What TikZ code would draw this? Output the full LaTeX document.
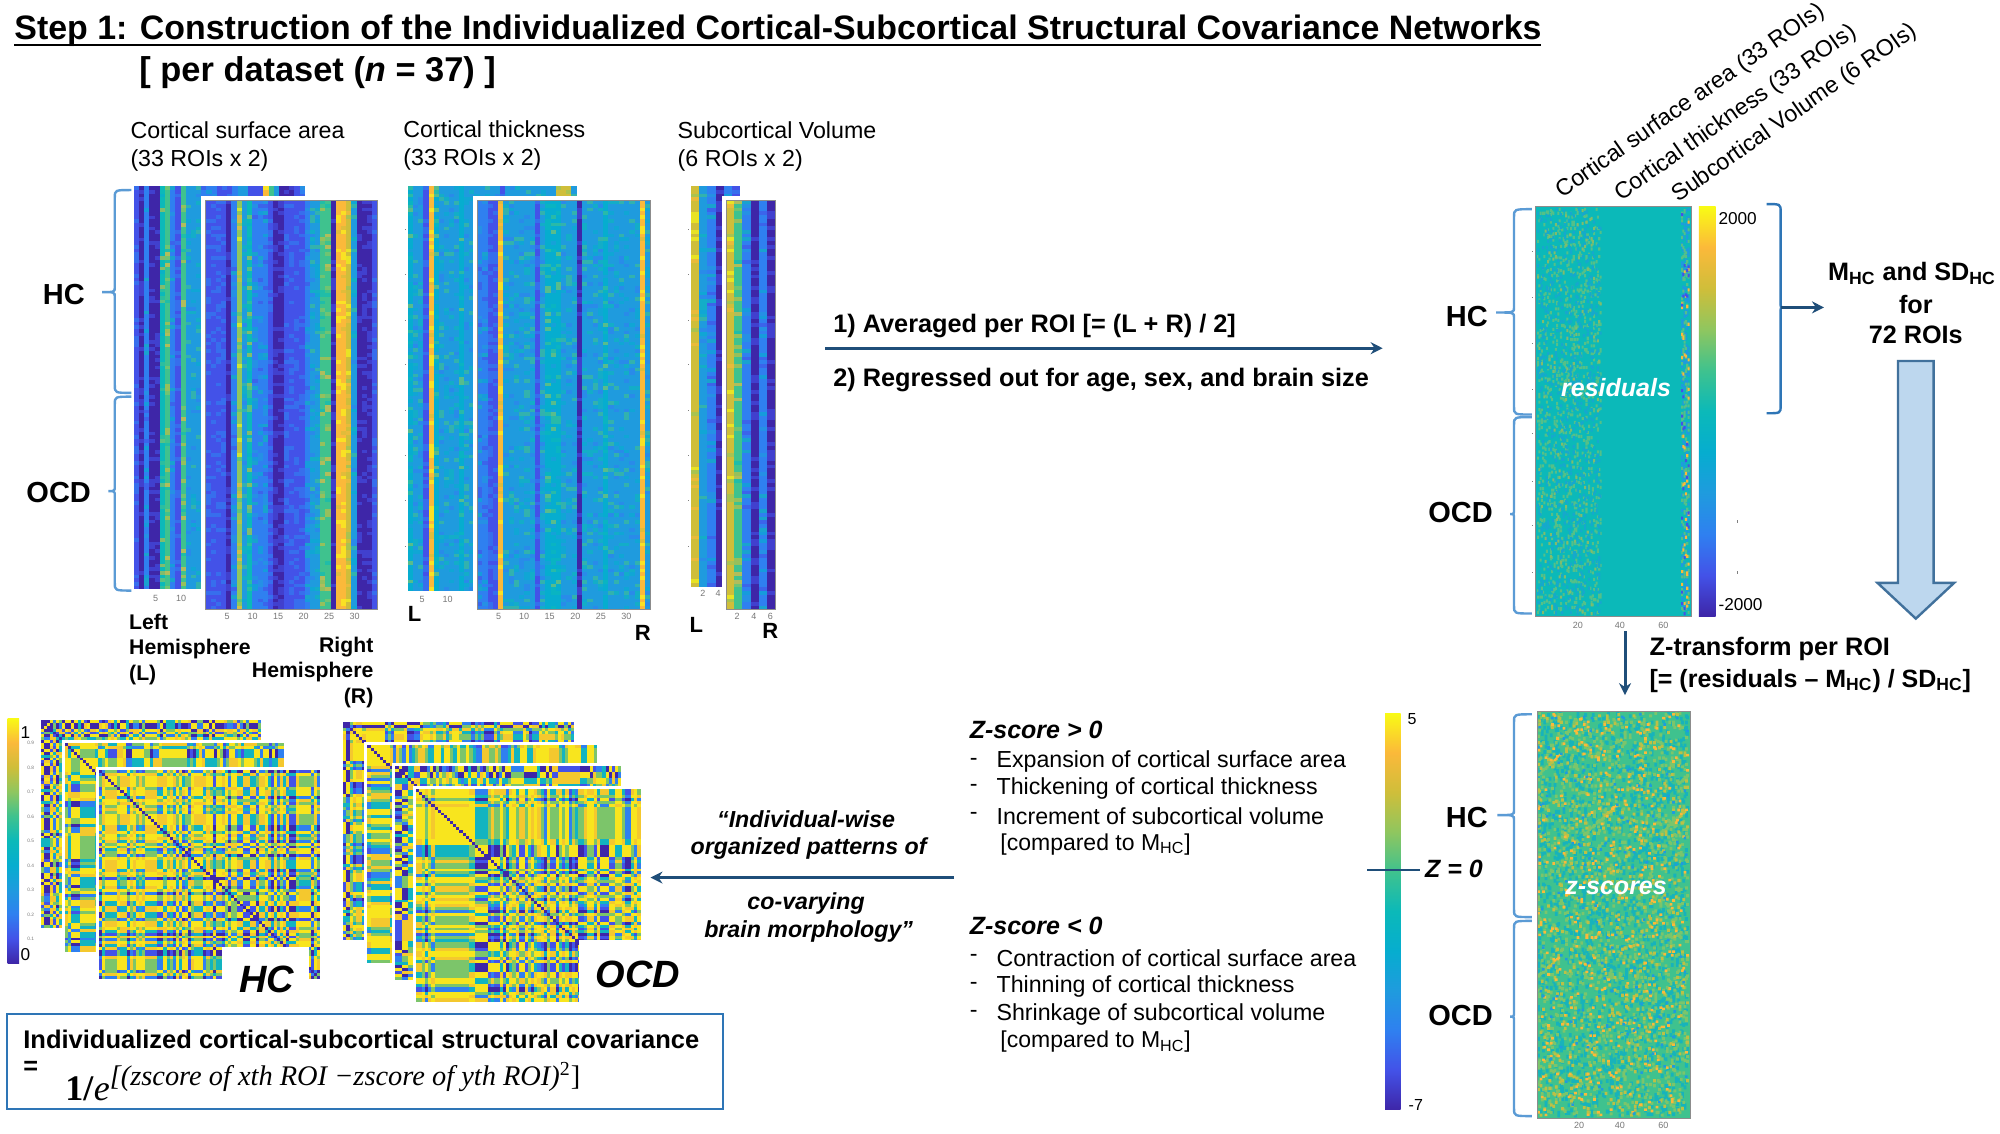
\documentclass[tikz,border=0pt]{standalone}
\usepackage[no-math]{fontspec}
\setmainfont{Liberation Sans}
\newfontfamily\fmfont{Liberation Serif}
\usetikzlibrary{arrows.meta}
\definecolor{p0}{HTML}{3E26A8}
\definecolor{p1}{HTML}{4352E8}
\definecolor{p2}{HTML}{2F80F0}
\definecolor{p3}{HTML}{1F9BDE}
\definecolor{p4}{HTML}{06ADCF}
\definecolor{p5}{HTML}{0BB9B9}
\definecolor{p6}{HTML}{3FC28E}
\definecolor{p7}{HTML}{8FC65F}
\definecolor{p8}{HTML}{CFBE3A}
\definecolor{p9}{HTML}{FBB93A}
\definecolor{p10}{HTML}{F9FB15}
\definecolor{q0}{HTML}{F8E51E}
\definecolor{q1}{HTML}{F4C82E}
\definecolor{q2}{HTML}{7CC56A}
\definecolor{q3}{HTML}{12B4C0}
\definecolor{q4}{HTML}{2F80F0}
\definecolor{q5}{HTML}{4352E8}
\definecolor{q6}{HTML}{3E26A8}
\definecolor{bracelt}{HTML}{5B9BD5}
\definecolor{bracedk}{HTML}{2E75B6}
\definecolor{arrowdk}{HTML}{1F4E79}
\definecolor{bigfill}{HTML}{BDD7EE}
\definecolor{bigedge}{HTML}{41719C}
\definecolor{tickgrey}{HTML}{777777}
\colorlet{sp1}{p7!55!p5}
\colorlet{sp2}{p3!55!p5}
\colorlet{sp3}{p8!60!p5}
\colorlet{zp1}{p4!70!p6}
\colorlet{zp2}{p7!75!p6}
\colorlet{zp3}{p8!70!p7}
\pgfdeclareverticalshading{parula}{100bp}{color(0bp)=(p0); color(25bp)=(p0); color(30bp)=(p1); color(35bp)=(p2); color(40bp)=(p3); color(45bp)=(p4); color(50bp)=(p5); color(55bp)=(p6); color(60bp)=(p7); color(65bp)=(p8); color(70bp)=(p9); color(75bp)=(p10); color(100bp)=(p10)}
\newdimen\uu \uu=0.63775pt
\newcount\rseed \rseed=12345
\newcount\rtmp \newcount\kk \newcount\ii \newcount\jj \newcount\xx \newcount\yy \newcount\dd \newcount\tmpb
\newdimen\hmx \newdimen\hmy \newdimen\hmw \newdimen\hmh
\def\holdA{0}\def\holdB{0}
\def\nextr#1{\global\rseed=\numexpr\rseed*25173+13849\relax
  \rtmp=\rseed \divide\rtmp 65536 \multiply\rtmp 65536 \global\advance\rseed-\rtmp
  \rtmp=\rseed \divide\rtmp 16 \multiply\rtmp #1 \divide\rtmp 4096 }
% column heat map: x0 y0 x1 y1 list ncols nrows noise%
\def\colheat#1#2#3#4#5#6#7#8{%
 \begin{pgfscope}
 \foreach \bb [count=\cc] in {#5}{%
  \pgfsetfillcolor{p\bb}%
  \hmx=\dimexpr#1\uu+(#3\uu-#1\uu)*\numexpr\cc-1\relax/#6\relax
  \hmw=\dimexpr(#3\uu-#1\uu)/#6\relax
  \pgfpathrectangle{\pgfqpoint{\hmx}{\dimexpr-#4\uu\relax}}{\pgfqpoint{\dimexpr\hmw+0.15pt\relax}{\dimexpr#4\uu-#2\uu\relax}}%
  \pgfusepath{fill}%
  \hmh=\dimexpr(#4\uu-#2\uu)/#7\relax
  \jj=0
  \loop\ifnum\jj<#7
   \nextr{100}\ifnum\rtmp<#8
    \nextr{4}\ifcase\rtmp \dd=-1 \or \dd=1 \or \dd=2 \else \dd=3 \fi
    \ifnum\bb<2 \dd=1 \fi
    \advance\dd \bb\relax
    \ifnum\dd<0 \dd=0 \fi
    \ifnum\dd>10 \dd=10 \fi
    \pgfsetfillcolor{p\the\dd!60!p\bb}%
    \pgfpathrectangle{\pgfqpoint{\hmx}{\dimexpr-#2\uu-\hmh*\jj-\hmh\relax}}{\pgfqpoint{\hmw}{\hmh}}%
    \pgfusepath{fill}%
   \fi
   \advance\jj 1
  \repeat
 }%
 \end{pgfscope}}
% specks: colour count x0 y0 w h sx sy
\def\specks#1#2#3#4#5#6#7#8{%
 \begin{pgfscope}\pgfsetfillcolor{#1}\kk=#2\relax
 \loop\ifnum\kk>0
  \nextr{#5}\xx=\rtmp \nextr{#6}\yy=\rtmp
  \pgfpathrectangle{\pgfqpoint{\dimexpr#3\uu+\xx\uu\relax}{\dimexpr-#4\uu-\yy\uu-#8\uu\relax}}{\pgfqpoint{#7\uu}{#8\uu}}%
  \advance\kk-1
 \repeat
 \pgfusepath{fill}\end{pgfscope}}
% covariance map: x0 y0 x1 y1 N coverx covery
\def\covm#1#2#3#4#5#6#7{%
 \begin{pgfscope}
 \ii=1 \tmpb=4
 \loop\ifnum\ii<\numexpr#5+1\relax
  \xx=0
  \ifnum\ii>\holdA \ifnum\ii<\holdB \xx=1 \fi\fi
  \ifnum\xx=0
   \nextr{100}\ifnum\rtmp<18 \else \nextr{10}\tmpb=\rtmp \fi
  \fi
  \expandafter\edef\csname zv\the\ii\endcsname{\the\tmpb}%
  \advance\ii 1
 \repeat
 \hmw=\dimexpr(#3\uu-#1\uu)/#5+0.15pt\relax
 \hmh=\dimexpr(#4\uu-#2\uu)/#5+0.15pt\relax
 \ii=1
 \loop\ifnum\ii<\numexpr#5+1\relax
  \hmy=\dimexpr#2\uu+(#4\uu-#2\uu)*\numexpr\ii-1\relax/#5\relax
  {\jj=1
  \loop\ifnum\jj<\numexpr#5+1\relax
   \hmx=\dimexpr#1\uu+(#3\uu-#1\uu)*\numexpr\jj-1\relax/#5\relax
   \tmpb=1
   \ifdim\hmx>#6\uu \ifdim\hmy>#7\uu \tmpb=0 \fi\fi
   \ifnum\tmpb=1
    \dd=\numexpr\csname zv\the\ii\endcsname-\csname zv\the\jj\endcsname\relax
    \ifnum\dd<0 \dd=-\dd \fi
    \ifnum\ii=\jj \dd=9 \fi
    \ifcase\dd \dd=0 \or \dd=0 \or \dd=1 \or \dd=2 \or \dd=3 \or \dd=4 \or \dd=5 \else \dd=6 \fi
    \pgfsetfillcolor{q\the\dd}%
    \pgfpathrectangle{\pgfqpoint{\hmx}{\dimexpr-\hmy-\hmh\relax}}{\pgfqpoint{\hmw}{\hmh}}%
    \pgfusepath{fill}%
   \fi
   \advance\jj 1
  \repeat}%
  \advance\ii 1
 \repeat
 \end{pgfscope}}
\tikzset{
 x=0.63775pt,y=-0.63775pt,
 txt/.style={inner sep=0pt,anchor=west,yshift=-0.7pt,font=\fontsize{11.6}{14}\selectfont},
 txtb/.style={inner sep=0pt,anchor=west,yshift=-1pt,font=\fontsize{12.65}{14}\selectfont\bfseries},
 hemi/.style={inner sep=0pt,font=\fontsize{10.6}{12.75}\selectfont\bfseries},
 group/.style={inner sep=0pt,font=\fontsize{14.5}{16}\selectfont\bfseries},
 tick/.style={inner sep=0pt,font=\fontsize{4.5}{5}\selectfont,text=tickgrey},
 whiteit/.style={inner sep=0pt,text=white,font=\fontsize{12.5}{14}\selectfont\bfseries\itshape},
 quote/.style={inner sep=0pt,yshift=-0.7pt,font=\fontsize{11.6}{14}\selectfont\bfseries\itshape},
 big/.style={inner sep=0pt,font=\fontsize{19}{21}\selectfont\bfseries\itshape},
 lr/.style={inner sep=0pt,font=\fontsize{11}{12}\selectfont\bfseries},
 rot/.style={inner sep=0pt,anchor=west,rotate=35,font=\fontsize{11.6}{14}\selectfont},
 bracelight/.style={draw=bracelt,line width=1.2pt},
 bracedark/.style={draw=bracedk,line width=1.2pt},
 darrow/.style={draw=arrowdk,line width=1.5pt,-{Stealth[length=6pt,width=6pt]}},
 frame/.style={draw=black!45,line width=0.25pt},
 minitick/.style={draw=black!50,line width=0.3pt},
 bz/.style={inner sep=0pt,anchor=west,font=\fontsize{12.5}{14}\selectfont\bfseries\itshape},
 cmp/.style={inner sep=0pt,anchor=west,yshift=-0.5pt,font=\fontsize{11.5}{14}\selectfont},
 msdl/.style={inner sep=0pt,yshift=-1pt,font=\fontsize{12.6}{14}\selectfont\bfseries},
}
\newcommand{\lbr}[6]{% xend xbody xtip y0 ymid y1
 \draw[bracelight] (#1,#4) .. controls (#2,#4) and (#2,#4) .. (#2,{#4+6}) -- (#2,{#5-4}) .. controls (#2,#5) and (#2,#5) .. (#3,#5) .. controls (#2,#5) and (#2,#5) .. (#2,{#5+4}) -- (#2,{#6-6}) .. controls (#2,#6) and (#2,#6) .. (#1,#6);}
\begin{document}
\begin{tikzpicture}
\useasboundingbox (0,0) rectangle (1568,888.3);
\fill[white] (0,0) rectangle (1568,888.3);
% Title
\node[inner sep=0pt,anchor=west,font=\fontsize{16.95}{18}\selectfont\bfseries] (title) at (11,24) {Step 1: Construction of the Individualized Cortical-Subcortical Structural Covariance Networks};
\coordinate (ul1) at (11,35.5);
\coordinate (ul2) at (1208,35.5);
\draw[line width=1.2pt] (ul1) -- (ul2);
\node[inner sep=0pt,anchor=west,font=\fontsize{17.2}{18}\selectfont\bfseries] (sub) at (109,57) {[ per dataset (\textit{n} = 37) ]};
% Top labels
\node[txt,align=left] (csa) at (102,114) {Cortical surface area\\(33 ROIs x 2)};
\node[txt,align=left] (ct) at (316,113) {Cortical thickness\\(33 ROIs x 2)};
\node[txt,align=left] (sv) at (531,114) {Subcortical Volume\\(6 ROIs x 2)};
% Matrices: surface area
\colheat{105}{146}{239}{462}{1,0,2,0,0,5,6,2,1,6,3,3,3,2,2,2,1,1,1,2,3,3,1,1,1,9,6,3,0,0,0,1,2}{33}{110}{22}
\fill[white] (157.5,154) rectangle (298,481);
\colheat{161}{157}{296}{478}{1,1,1,1,0,2,7,3,5,2,2,2,1,0,0,1,1,1,1,2,3,3,6,6,0,9,9,8,3,0,0,0,1}{33}{110}{28}
\draw[frame] (161,157) rectangle (296,478);
% Matrices: thickness
\colheat{320}{146}{452}{463}{4,3,3,1,9,4,3,3,3,3,4,3,3,3,3,3,3,3,1,3,3,3,3,3,3,3,3,3,3,8,8,8,3}{33}{110}{30}
\fill[white] (371,154) rectangle (512,481);
\colheat{374}{157}{510}{478}{2,2,1,1,9,3,3,3,3,3,3,1,3,4,4,4,3,3,3,0,3,3,3,3,4,3,3,3,3,3,3,9,3}{33}{110}{30}
\draw[frame] (374,157) rectangle (510,478);
% Matrices: subcortical
\colheat{542}{146}{580}{460}{8,3,2,0,2,1}{6}{110}{28}
\fill[white] (566,154) rectangle (610,481);
\colheat{569}{157}{608}{478}{8,6,2,0,2,0}{6}{110}{28}
\draw[frame] (569,157) rectangle (608,478);
% small axis marks
\foreach \my in {180,215,251,286,322,357,392,428}{\draw[minitick] (317.5,\my) -- (318.5,\my); \draw[minitick] (539.5,\my) -- (540.5,\my);}
\foreach \my in {197,233,269,305,340,377,412,449}{\draw[minitick] (1201,\my) -- (1202,\my);}
\foreach \my in {197,233,269,305,340,377,412,449}{\draw[minitick] (1325,\my) -- (1326,\my);}
\foreach \my in {408,448}{\draw[minitick] (1362,\my) -- (1362,{\my+2});}
% Tick labels
\foreach \tx/\tt in {122/5,142/10}{\node[tick] (ta\tx) at (\tx,469) {\tt};}
\foreach \tx/\tt in {178/5,198/10,218/15,238/20,258/25,278/30}{\node[tick] (tb\tx) at (\tx,483) {\tt};}
\foreach \tx/\tt in {331/5,351/10}{\node[tick] (tc\tx) at (\tx,470) {\tt};}
\foreach \tx/\tt in {391/5,411/10,431/15,451/20,471/25,491/30}{\node[tick] (td\tx) at (\tx,483) {\tt};}
\foreach \tx/\tt in {551/2,563/4}{\node[tick] (te\tx) at (\tx,465) {\tt};}
\foreach \tx/\tt in {578/2,591/4,604/6}{\node[tick] (tf\tx) at (\tx,483) {\tt};}
% Hemisphere labels
\node[hemi,align=left,anchor=north west] (lhemi) at (101,481) {Left\\Hemisphere\\(L)};
\node[hemi,align=right,anchor=north east] (rhemi) at (293,499) {Right\\Hemisphere\\(R)};
\node[lr] (l2) at (325,481) {L};
\node[lr] (r2) at (504,496) {R};
\node[lr] (l3) at (546,490) {L};
\node[lr] (r3) at (604,495) {R};
% Left braces
\lbr{103}{90}{80}{149}{229}{308}
\lbr{103}{90}{85}{311}{385}{463}
\node[group] (hc1) at (50,231) {HC};
\node[group] (ocd1) at (46,386) {OCD};
% Middle step
\node[txtb] (s1) at (653,254) {1) Averaged per ROI [= (L + R) / 2]};
\node[txtb] (s2) at (653,296) {2) Regressed out for age, sex, and brain size};
\coordinate (m1) at (647,273);
\coordinate (m2) at (1084,273);
\draw[darrow] (m1) -- (m2);
% Rotated labels
\node[rot] (r1) at (1222,152) {Cortical surface area (33 ROIs)};
\node[rot] (r2b) at (1268,154) {Cortical thickness (33 ROIs)};
\node[rot] (r3b) at (1313,155) {Subcortical Volume (6 ROIs)};
% Residuals
\fill[p5] (1204,162) rectangle (1326,483);
\specks{sp1}{1100}{1205}{163}{50}{318}{1.6}{2.4}
\specks{sp2}{700}{1205}{163}{50}{318}{1.6}{2.4}
\specks{sp3}{120}{1205}{163}{50}{318}{1.6}{2.4}
\specks{p3}{300}{1318}{163}{6}{318}{1.6}{2.4}
\specks{sp1}{180}{1318}{163}{6}{318}{1.6}{2.4}
\specks{p9}{50}{1318}{163}{6}{318}{1.6}{2.4}
\specks{p1}{30}{1318}{163}{6}{318}{1.6}{2.4}
\draw[frame] (1204,162) rectangle (1326,483);
\shade[shading=parula] (1332,162) rectangle (1345,483);
\node[inner sep=0pt,anchor=west,font=\fontsize{8.6}{10}\selectfont] (c1a) at (1347,171) {2000};
\node[inner sep=0pt,anchor=west,font=\fontsize{8.6}{10}\selectfont] (c1b) at (1347,474) {-2000};
\node[whiteit] (resid) at (1267,304) {residuals};
\lbr{1201}{1187}{1173}{164}{245}{325}
\lbr{1201}{1187}{1184}{327}{403}{481}
\node[group] (hc2) at (1150,248) {HC};
\node[group] (ocd2) at (1145,402) {OCD};
\foreach \tx/\tt in {1237/20,1270/40,1304/60}{\node[tick] (tg\tx) at (\tx,490) {\tt};}
% Bracket and M/SD
\draw[bracedark] (1385,160) .. controls (1396,160) and (1396,160) .. (1396,166) -- (1396,237) .. controls (1396,241) and (1396,241) .. (1398,241) .. controls (1396,241) and (1396,241) .. (1396,245) -- (1396,318) .. controls (1396,324) and (1396,324) .. (1385,324);
\coordinate (brk) at (1396,241);
\coordinate (brk2) at (1430,241);
\draw[darrow] (brk) -- (brk2);
\node[msdl] (msd) at (1499,213) {M\textsubscript{HC} and SD\textsubscript{HC}};
\node[msdl] (for) at (1502,237) {for};
\node[msdl] (rois) at (1502,261) {72 ROIs};
\draw[fill=bigfill,draw=bigedge,line width=1.2pt] (1488,283) -- (1516,283) -- (1516,457) -- (1532,457) -- (1502,485) -- (1472,457) -- (1488,457) -- cycle;
% Z transform
\node[txtb] (zt1) at (1293,507) {Z-transform per ROI};
\node[txtb,font=\fontsize{12.5}{14}\selectfont\bfseries] (zt2) at (1293,532) {[= (residuals – M\textsubscript{HC}) / SD\textsubscript{HC}]};
\coordinate (z1) at (1274,495);
\coordinate (z2) at (1274,545);
\draw[darrow] (z1) -- (z2);
% z-score matrix
\fill[p6] (1205,558) rectangle (1325,877);
\specks{zp1}{1900}{1205}{558}{118}{316}{2.2}{3}
\specks{zp2}{1500}{1205}{558}{118}{316}{2.2}{2.5}
\specks{zp3}{500}{1205}{558}{118}{316}{2.2}{2.5}
\specks{p9}{400}{1205}{558}{118}{316}{2.2}{2}
\specks{p3}{150}{1205}{558}{118}{316}{2}{2}
\draw[frame] (1205,558) rectangle (1325,877);
\node[whiteit] (zsc) at (1267,696) {z-scores};
\lbr{1201}{1187}{1174}{560}{639}{719}
\lbr{1201}{1187}{1184}{722}{797}{875}
\node[group] (hc3) at (1150,641) {HC};
\node[group] (ocd3) at (1145,796) {OCD};
\foreach \tx/\tt in {1238/20,1270/40,1304/60}{\node[tick] (th\tx) at (\tx,882) {\tt};}
% z colorbar
\shade[shading=parula] (1086,559) rectangle (1098,870);
\node[inner sep=0pt,font=\fontsize{8}{10}\selectfont] (c2a) at (1107,564) {5};
\node[inner sep=0pt,font=\fontsize{8}{10}\selectfont] (c2b) at (1110,866) {-7};
\coordinate (zl1) at (1072,682);
\coordinate (zl2) at (1113,682);
\draw[draw=arrowdk,line width=1.1pt] (zl1) -- (zl2);
\node[bz] (z0) at (1117,681) {Z = 0};
% Z-score texts
\node[bz] (zp) at (760,572) {Z-score > 0};
\node[txt] (zp0) at (760,596) {-}; \node[txt] (zp1) at (781,596) {Expansion of cortical surface area};
\node[txt] (zp0b) at (760,617) {-}; \node[txt] (zp2) at (781,617) {Thickening of cortical thickness};
\node[txt] (zp0c) at (760,639) {-}; \node[txt] (zp3) at (781,639) {Increment of subcortical volume};
\node[cmp] (zp4) at (784,661) {[compared to M\textsubscript{HC}]};
\node[bz] (zn) at (760,726) {Z-score < 0};
\node[txt] (zn0) at (760,750) {-}; \node[txt] (zn1) at (781,750) {Contraction of cortical surface area};
\node[txt] (zn0b) at (760,772) {-}; \node[txt] (zn2) at (781,772) {Thinning of cortical thickness};
\node[txt] (zn0c) at (760,794) {-}; \node[txt] (zn3) at (781,794) {Shrinkage of subcortical volume};
\node[cmp] (zn4) at (784,816) {[compared to M\textsubscript{HC}]};
% Quote
\node[quote] (qa) at (632,641) {“Individual-wise};
\node[quote] (qb) at (634,664) {organized patterns of};
\node[quote] (qc) at (632,707) {co-varying};
\node[quote] (qd) at (634,729) {brain morphology”};
\coordinate (q1) at (748,688);
\coordinate (q2) at (510,688);
\draw[darrow] (q1) -- (q2);
% Left colorbar
\shade[shading=parula] (6,563) rectangle (15,755);
\node[inner sep=0pt,font=\fontsize{8.6}{10}\selectfont] (cb1) at (20,574) {1};
\node[inner sep=0pt,font=\fontsize{8.6}{10}\selectfont] (cb0) at (20,748) {0};
\foreach \my/\tt in {582.6/0.9,601.8/0.8,621/0.7,640.2/0.6,659.4/0.5,678.6/0.4,697.8/0.3,717/0.2,736.2/0.1}{\node[inner sep=0pt,font=\fontsize{2.4}{3}\selectfont,text=tickgrey] (cbt\tt) at (24,\my) {\tt};}
% HC maps
\covm{32}{564.5}{204.6}{727.6}{72}{49}{580}
\fill[white] (48.5,580) rectangle (224.5,748.5);
\covm{51}{582.5}{222.6}{746.4}{72}{75}{601}
\fill[white] (75,601) rectangle (253,769.5);
\covm{77.6}{603.7}{251}{767.6}{72}{9999}{9999}
\fill[white] (174,742.5) rectangle (242,775);
\node[big] (hcl) at (209,768) {HC};
% OCD maps
\covm{269}{565.7}{450}{737}{72}{285}{582}
\fill[white] (285.5,581.5) rectangle (470,757);
\covm{288}{584}{468}{755}{72}{307}{598}
\fill[white] (307.5,598) rectangle (489,770);
\covm{310}{600.6}{487}{768}{72}{323}{616}
\fill[white] (323.5,616) rectangle (504,787);
\def\holdA{8}\def\holdB{18}
\covm{326}{618.5}{502}{785}{72}{9999}{9999}
\def\holdA{0}\def\holdB{0}
\fill[white] (454,737) rectangle (505,790);
\node[big] (ocdl) at (500,764) {OCD};
% Formula box
\node[draw=bracedk,line width=1pt,fill=white,minimum width=561\uu,minimum height=75\uu,inner sep=0pt,anchor=north west] (fbox) at (5,794) {};
\node[txtb,font=\fontsize{12.75}{14}\selectfont\bfseries] (ft) at (18,813) {Individualized cortical-subcortical structural covariance};
\node[txtb] (feq) at (18,836) {=};
\node[inner sep=0pt,anchor=west,font=\fontsize{18}{18}\selectfont\fmfont] (fm) at (51,848) {\textbf{1/}\textit{e}\raisebox{7.5pt}{\fontsize{14.2}{14}\selectfont\itshape[(zscore of xth ROI −zscore of yth ROI)\textsuperscript{\upshape 2}\upshape ]}};
\end{tikzpicture}
\end{document}
